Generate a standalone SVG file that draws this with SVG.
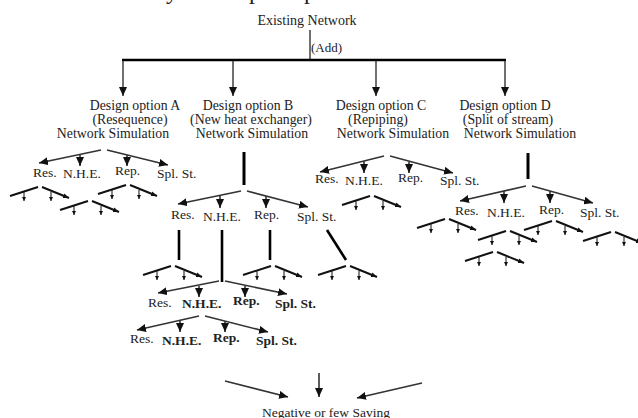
<svg xmlns="http://www.w3.org/2000/svg" xmlns:xlink="http://www.w3.org/1999/xlink" width="638" height="418" viewBox="0 0 638 418">
  <style>
    text { font-family: "Liberation Serif", "Times New Roman", serif; fill: #222; }
    .big { font-size: 13.8px; }
    .lbl { font-size: 13.5px; }
    .bold { font-weight: bold; }
    .mid { text-anchor: middle; }
    .thin { stroke: #111; stroke-width: 1.2; fill: none; }
    .fan { stroke: #333; stroke-width: 1.6; fill: none; }
    .tick { stroke: #222; stroke-width: 1.1; fill: none; }
    .stem { stroke: #000; stroke-width: 3; fill: none; }
    .bar { stroke: #000; stroke-width: 2.6; fill: none; }
    .roof { stroke: #111; stroke-width: 2; fill: none; }
  </style>
  <defs>
    <marker id="ah" viewBox="0 0 9 8" refX="9" refY="4" markerWidth="9" markerHeight="8" markerUnits="userSpaceOnUse" orient="auto">
      <path d="M0,0 L9,4 L0,8 z" fill="#111"/>
    </marker>
    <marker id="ahs" viewBox="0 0 6 5" refX="6" refY="2.5" markerWidth="6" markerHeight="5" markerUnits="userSpaceOnUse" orient="auto">
      <path d="M0,0 L6,2.5 L0,5 z" fill="#111"/>
    </marker>
    <marker id="aht" viewBox="0 0 4 4" refX="4" refY="2" markerWidth="4" markerHeight="4" markerUnits="userSpaceOnUse" orient="auto">
      <path d="M0,0 L4,2 L0,4 z" fill="#111"/>
    </marker>
    <!-- miniature branching sketch, origin at its apex -->
    <g id="mini">
      <path class="roof" d="M-30,9 L-2,0"/>
      <path class="roof" d="M2,0 L29,11" marker-end="url(#ahs)"/>
      <path class="tick" d="M-16,5 V14" marker-end="url(#aht)"/>
      <path class="tick" d="M11,5 V14" marker-end="url(#aht)"/>
    </g>
  </defs>

  <rect width="638" height="418" fill="#fff"/>

  <!-- heading line above the frame; only descenders fall inside -->
  <g id="heading-cut" font-size="24">
    <text x="166" y="-1" style="font-size:24px">y</text>
    <text x="249" y="-1" style="font-size:24px">p</text>
    <text x="304" y="-1" style="font-size:24px">p</text>
  </g>

  <g id="node-existing">
    <text class="big mid" x="307" y="25" style="font-size:14px">Existing Network</text>
  </g>
  <g id="label-add">
    <text class="lbl" x="311" y="52" style="font-size:13px">(Add)</text>
  </g>

  <g id="node-option-a">
    <text class="big mid" x="135" y="110">Design option A</text>
    <text class="big mid" x="130" y="124">(Resequence)</text>
    <text class="big mid" x="113" y="138">Network Simulation</text>
  </g>
  <g id="node-option-b">
    <text class="big mid" x="248" y="110">Design option B</text>
    <text class="big mid" x="251" y="124">(New heat exchanger)</text>
    <text class="big mid" x="252" y="138">Network Simulation</text>
  </g>
  <g id="node-option-c">
    <text class="big mid" x="381" y="110">Design option C</text>
    <text class="big mid" x="378" y="124">(Repiping)</text>
    <text class="big mid" x="393" y="138">Network Simulation</text>
  </g>
  <g id="node-option-d">
    <text class="big mid" x="505" y="110">Design option D</text>
    <text class="big mid" x="508" y="124">(Split of stream)</text>
    <text class="big mid" x="520" y="138">Network Simulation</text>
  </g>

  <g id="node-a-choices" class="lbl">
    <text class="lbl" x="33" y="177">Res.</text>
    <text class="lbl" x="63" y="178">N.H.E.</text>
    <text class="lbl" x="115" y="175">Rep.</text>
    <text class="lbl" x="157" y="178">Spl. St.</text>
  </g>
  <g id="node-b-choices">
    <text class="lbl" x="171" y="219">Res.</text>
    <text class="lbl" x="203" y="221">N.H.E.</text>
    <text class="lbl" x="254" y="219">Rep.</text>
    <text class="lbl" x="297" y="221">Spl. St.</text>
  </g>
  <g id="node-b-nhe-choices">
    <text class="lbl bold" x="148" y="307" style="font-weight:normal">Res.</text>
    <text class="lbl bold" x="182" y="308">N.H.E.</text>
    <text class="lbl bold" x="233" y="305">Rep.</text>
    <text class="lbl bold" x="275" y="308">Spl. St.</text>
  </g>
  <g id="node-b-nhe-nhe-choices">
    <text class="lbl" x="130" y="343">Res.</text>
    <text class="lbl bold" x="162" y="345">N.H.E.</text>
    <text class="lbl bold" x="213" y="342">Rep.</text>
    <text class="lbl bold" x="256" y="345">Spl. St.</text>
  </g>
  <g id="node-c-choices">
    <text class="lbl" x="315" y="183">Res.</text>
    <text class="lbl" x="345" y="185">N.H.E.</text>
    <text class="lbl" x="398" y="182">Rep.</text>
    <text class="lbl" x="440" y="185">Spl. St.</text>
  </g>
  <g id="node-d-choices">
    <text class="lbl" x="455" y="215">Res.</text>
    <text class="lbl" x="487" y="217">N.H.E.</text>
    <text class="lbl" x="539" y="214">Rep.</text>
    <text class="lbl" x="580" y="217">Spl. St.</text>
  </g>

  <g id="node-result">
    <text class="lbl mid" x="326" y="417">Negative or few Saving</text>
  </g>

  <g id="connectors">
    <!-- top distribution -->
    <path class="thin" d="M310,30 V60"/>
    <path class="bar" d="M122,60 H506"/>
    <path class="thin" d="M123,61 V96" marker-end="url(#ah)"/>
    <path class="thin" d="M233,61 V96" marker-end="url(#ah)"/>
    <path class="thin" d="M376,61 V96" marker-end="url(#ah)"/>
    <path class="thin" d="M505,61 V96" marker-end="url(#ah)"/>

    <!-- option A fan -->
    <path class="fan" d="M101,150 L39,163" marker-end="url(#ah)"/>
    <path class="fan" d="M107,150 L168,165" marker-end="url(#ah)"/>
    <path class="fan" d="M80,155 V166" marker-end="url(#ah)"/>
    <path class="fan" d="M127,155 V166" marker-end="url(#ah)"/>

    <!-- option B stem and fan -->
    <path class="stem" d="M244,152 V185"/>
    <path class="fan" d="M241,191 L178,204" marker-end="url(#ah)"/>
    <path class="fan" d="M247,191 L308,207" marker-end="url(#ah)"/>
    <path class="fan" d="M220,196 V208" marker-end="url(#ah)"/>
    <path class="fan" d="M266,196 V208" marker-end="url(#ah)"/>
    <path class="bar" d="M179,230 V260"/>
    <path class="bar" d="M222,230 V282"/>
    <path class="bar" d="M270,230 V260"/>
    <path class="bar" d="M327,230 L346,260"/>

    <!-- B / N.H.E. fan -->
    <path class="fan" d="M219,281 L158,293" marker-end="url(#ah)"/>
    <path class="fan" d="M225,281 L287,294" marker-end="url(#ah)"/>
    <path class="fan" d="M199,286 V297" marker-end="url(#ah)"/>
    <path class="fan" d="M245,286 V297" marker-end="url(#ah)"/>

    <!-- B / N.H.E. / N.H.E. fan -->
    <path class="fan" d="M199,316 L137,330" marker-end="url(#ah)"/>
    <path class="fan" d="M205,316 L268,332" marker-end="url(#ah)"/>
    <path class="fan" d="M180,321 V332" marker-end="url(#ah)"/>
    <path class="fan" d="M225,321 V332" marker-end="url(#ah)"/>

    <!-- option C fan -->
    <path class="fan" d="M384,156 L320,172" marker-end="url(#ah)"/>
    <path class="fan" d="M390,156 L453,173" marker-end="url(#ah)"/>
    <path class="fan" d="M364,161 V173" marker-end="url(#ah)"/>
    <path class="fan" d="M409,162 V173" marker-end="url(#ah)"/>

    <!-- option D stem and fan -->
    <path class="stem" d="M528,153 V179"/>
    <path class="fan" d="M526,186 L460,201" marker-end="url(#ah)"/>
    <path class="fan" d="M532,186 L593,203" marker-end="url(#ah)"/>
    <path class="fan" d="M504,191 V203" marker-end="url(#ah)"/>
    <path class="fan" d="M550,191 V203" marker-end="url(#ah)"/>

    <!-- miniature branchings -->
    <use href="#mini" xlink:href="#mini" x="40" y="187"/>
    <use href="#mini" xlink:href="#mini" x="128" y="185"/>
    <use href="#mini" xlink:href="#mini" x="90" y="201"/>
    <use href="#mini" xlink:href="#mini" x="173" y="266"/>
    <use href="#mini" xlink:href="#mini" x="273" y="266"/>
    <use href="#mini" xlink:href="#mini" x="348" y="266"/>
    <use href="#mini" xlink:href="#mini" x="372" y="196"/>
    <use href="#mini" xlink:href="#mini" x="447" y="219"/>
    <use href="#mini" xlink:href="#mini" x="508" y="231"/>
    <use href="#mini" xlink:href="#mini" x="554" y="221"/>
    <use href="#mini" xlink:href="#mini" x="613" y="232"/>
    <use href="#mini" xlink:href="#mini" x="495" y="252"/>

    <!-- converging result arrows -->
    <path class="fan" d="M225,381 L288,397" marker-end="url(#ah)"/>
    <path class="fan" d="M319,373 V397" marker-end="url(#ah)"/>
    <path class="fan" d="M422,383 L357,398" marker-end="url(#ah)"/>
  </g>
</svg>
